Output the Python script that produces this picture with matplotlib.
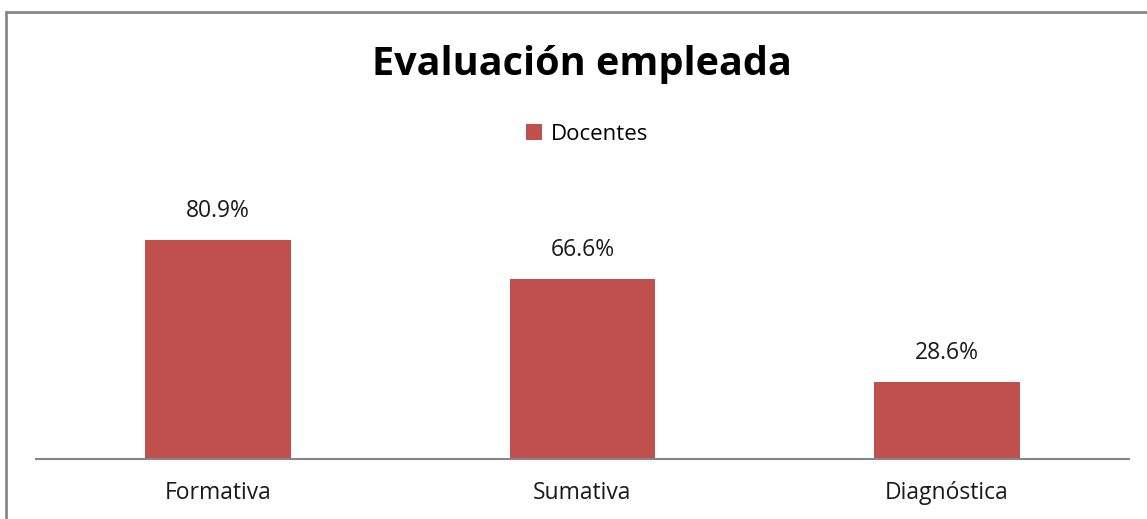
import matplotlib
matplotlib.use("Agg")
import matplotlib.pyplot as plt
from matplotlib.patches import Rectangle, Patch

categories = ["Formativa", "Sumativa", "Diagnóstica"]
values = [80.9, 66.6, 28.6]
labels = ["80.9%", "66.6%", "28.6%"]
series_name = "Docentes"
title = "Evaluación empleada"

plt.rcParams['font.family'] = ['Open Sans', 'DejaVu Sans']

W, H = 1147, 519
fig = plt.figure(figsize=(W / 100, H / 100), dpi=100)
fig.patch.set_facecolor("white")

# outer chart border (cut off at right and bottom)
fig.patches.append(Rectangle((6 / W, -0.1), 1.2, (H - 12) / H + 0.1,
                             transform=fig.transFigure, fill=False,
                             edgecolor="#878787", linewidth=2.0))

ax_left, ax_right = 36 / W, 1129 / W
ax_bottom = (H - 459) / H
ax_height = 270.7 / H
ax = fig.add_axes([ax_left, ax_bottom, ax_right - ax_left, ax_height])
ax.set_facecolor("none")

bar_color = "#C0504D"
x = list(range(len(categories)))
bars = ax.bar(x, values, width=0.4, color=bar_color, label=series_name, zorder=2)
ax.set_xlim(-0.5, len(categories) - 0.5)
ax.set_ylim(0, 100)

for xi, v, lab in zip(x, values, labels):
    ax.annotate(lab, (xi, v), xytext=(0, 12), textcoords="offset points",
                ha="center", va="bottom", fontsize=16.5, color="#1a1a1a",
                clip_on=False)

for s in ["top", "right", "left"]:
    ax.spines[s].set_visible(False)
ax.spines["bottom"].set_color("#878787")
ax.spines["bottom"].set_linewidth(1.5)
ax.set_yticks([])
ax.set_xticks(x)
ax.set_xticklabels(categories, fontsize=16.5, color="#1a1a1a")
ax.tick_params(axis="x", length=0, pad=16)

fig.text(582 / W, 1 - 64 / H, title, ha="center", va="center",
         fontsize=28.5, fontweight="bold", color="black")

leg = ax.legend(handles=[Patch(facecolor=bar_color, label=series_name)],
                loc="center", bbox_to_anchor=(587 / W, 1 - 134 / H),
                bbox_transform=fig.transFigure, frameon=False,
                fontsize=16, handlelength=0.72, handleheight=0.72,
                handletextpad=0.4)

fig.savefig("out.png", dpi=100, facecolor="white")
